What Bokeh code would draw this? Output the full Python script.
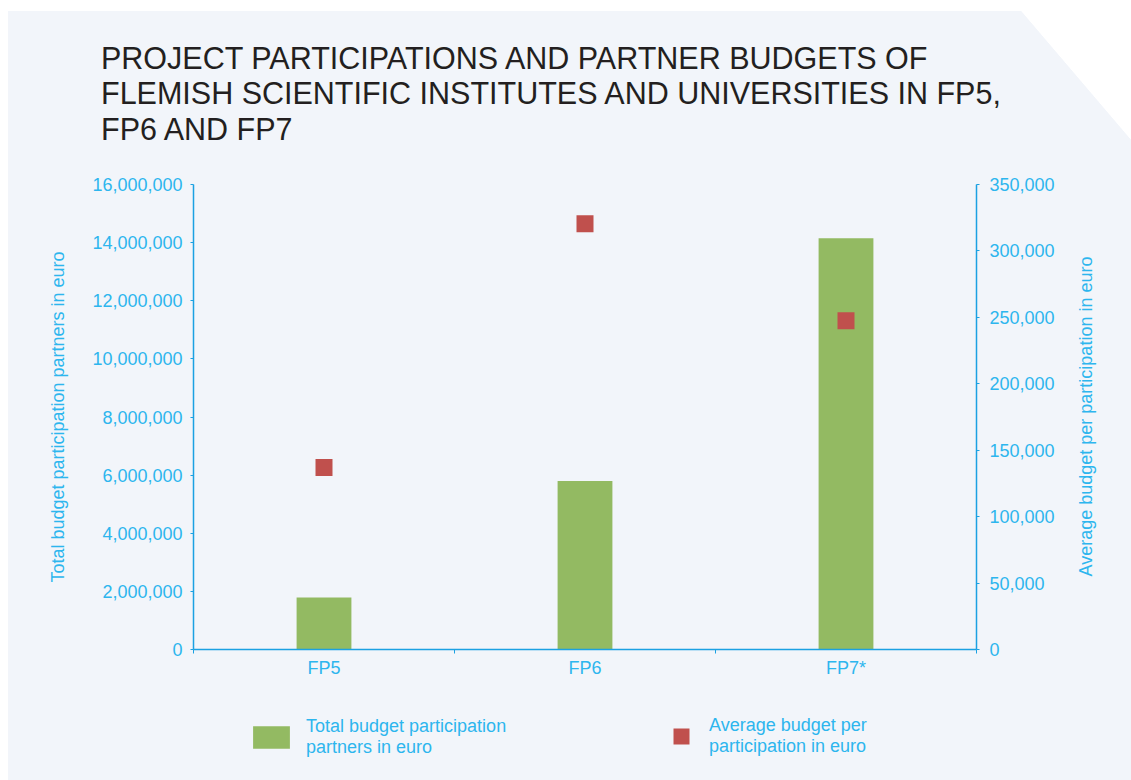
import math
from bokeh.plotting import figure
from bokeh.layouts import column
from bokeh.models import (Range1d, FactorRange, LinearAxis, FixedTicker, NumeralTickFormatter,
                          Legend, LegendItem, Label)
from bokeh.embed import file_html
from bokeh.resources import INLINE

# ---- data ----
categories = ["FP5", "FP6", "FP7*"]
total_budget = [1790000, 5800000, 14150000]
avg_budget = [137000, 320500, 247500]
left_ticks = [0, 2000000, 4000000, 6000000, 8000000, 10000000, 12000000, 14000000, 16000000]
right_ticks = [0, 50000, 100000, 150000, 200000, 250000, 300000, 350000]
title_lines = ["PROJECT PARTICIPATIONS AND PARTNER BUDGETS OF",
               "FLEMISH SCIENTIFIC INSTITUTES AND UNIVERSITIES IN FP5,",
               "FP6 AND FP7"]
left_label = "Total budget participation partners in euro"
right_label = "Average budget per participation in euro"
legend_bar = "Total budget participation\npartners in euro"
legend_sq = "Average budget per\nparticipation in euro"

# ---- style ----
BG = "#F2F5FA"
CYAN = "#2DB6EE"
AXIS = "#1BA1E2"
GREEN = "#93BA62"
RED = "#C0504D"
DARK = "#231F20"
FONT = "Liberation Sans"

p = figure(width=1131, height=700, x_range=FactorRange(*categories),
           y_range=Range1d(0, 16000000),
           output_backend="svg", toolbar_location=None,
           x_axis_location=None, y_axis_location=None,
           min_border_left=193, min_border_right=155,
           min_border_top=184, min_border_bottom=51)
p.extra_y_ranges = {"avg": Range1d(0, 350000)}
p.grid.visible = False
p.outline_line_color = None
p.background_fill_color = BG
p.border_fill_color = BG

# title (three lines)
p.title.text = "\n".join(title_lines)
p.title.text_font = FONT
p.title.text_font_size = "30.5px"
p.title.text_font_style = "normal"
p.title.text_color = DARK
p.title.text_line_height = 1.05
p.title.align = "left"
p.title.offset = -92.5
p.title.standoff = 77

def style_axis(ax):
    ax.axis_line_color = AXIS
    ax.axis_line_width = 1.5
    ax.major_tick_line_color = AXIS
    ax.minor_tick_line_color = AXIS
    ax.major_label_text_color = CYAN
    ax.major_label_text_font = FONT
    ax.major_label_text_font_size = "18px"
    ax.axis_label_text_color = CYAN
    ax.axis_label_text_font = FONT
    ax.axis_label_text_font_size = "18px"
    ax.axis_label_text_font_style = "normal"

yl = LinearAxis(ticker=FixedTicker(ticks=left_ticks), formatter=NumeralTickFormatter(format="0,0"),
                axis_label=left_label)
style_axis(yl)
yl.major_tick_out = 3
yl.major_tick_in = 0
yl.minor_tick_out = 0
yl.minor_tick_in = 0
yl.major_label_standoff = 8
yl.axis_label_standoff = 21
p.add_layout(yl, "left")

yr = LinearAxis(y_range_name="avg", ticker=FixedTicker(ticks=right_ticks),
                formatter=NumeralTickFormatter(format="0,0"))
style_axis(yr)
yr.major_tick_out = 3
yr.major_tick_in = 0
yr.minor_tick_out = 0
yr.minor_tick_in = 0
yr.major_label_standoff = 10
p.add_layout(yr, "right")

# right-hand axis title, reading bottom-to-top like the left one
rlab = Label(x=1085, y=416, x_units="canvas", y_units="canvas", text=right_label, angle=math.pi / 2,
             text_align="center", text_baseline="middle", text_font=FONT, text_font_size="18px",
             text_color=CYAN)
p.add_layout(rlab, "right")

centers = [i + 0.5 for i in range(len(categories))]
bounds = [float(i) for i in range(len(categories) + 1)]
xb = LinearAxis(ticker=FixedTicker(ticks=centers, minor_ticks=bounds),
                major_label_overrides={c: n for c, n in zip(centers, categories)})
style_axis(xb)
xb.major_tick_out = 0
xb.major_tick_in = 0
xb.minor_tick_out = 4
xb.minor_tick_in = 0
xb.major_label_standoff = 4
p.add_layout(xb, "below")

bars = p.vbar(x=categories, top=total_budget, width=0.21, fill_color=GREEN, line_color=None)
sq = p.scatter(x=categories, y=avg_budget, marker="square", size=17, fill_color=RED,
               line_color=None, y_range_name="avg")

# ---- legend strip (own figure, same background; frame aligns with the chart's frame) ----
lf = figure(width=1131, height=80, x_range=Range1d(0, 1), y_range=Range1d(-1e9, -1e9 + 1),
            output_backend="svg", toolbar_location=None,
            x_axis_location=None, y_axis_location=None,
            min_border=0, min_border_left=0, min_border_right=0,
            min_border_top=0, min_border_bottom=0)
lf.grid.visible = False
lf.outline_line_color = None
lf.background_fill_color = BG
lf.border_fill_color = BG
# legend proxies (hidden) built from the same series
lbar = lf.vbar(x=centers, top=total_budget, width=0.21, fill_color=GREEN, line_color=None,
               visible=False)
lsq = lf.scatter(x=centers, y=avg_budget, marker="square", size=17, fill_color=RED,
                 line_color=None, visible=False)

def style_legend(lg):
    lg.background_fill_alpha = 0
    lg.border_line_color = None
    lg.padding = 0
    lg.margin = 0
    lg.spacing = 0
    lg.label_text_color = CYAN
    lg.label_text_font = FONT
    lg.label_text_font_size = "18px"
    lg.label_text_line_height = 1.045

leg1 = Legend(items=[LegendItem(label=legend_bar, renderers=[lbar])], location=(55, 22),
              glyph_width=46, glyph_height=28, label_standoff=12)
style_legend(leg1)
lf.add_layout(leg1, "center")

leg2 = Legend(items=[LegendItem(label=legend_sq, renderers=[lsq])], location=(468, 23),
              glyph_width=40, glyph_height=40, label_standoff=8)
style_legend(leg2)
lf.add_layout(leg2, "center")

layout = column(p, lf, spacing=0)
layout.styles = {"background-color": BG,
                 "clip-path": "polygon(8px 11px, 1021px 11px, 1131px 140px, 1131px 780px, 8px 780px)"}
open("out.html", "w").write(file_html(layout, INLINE))
